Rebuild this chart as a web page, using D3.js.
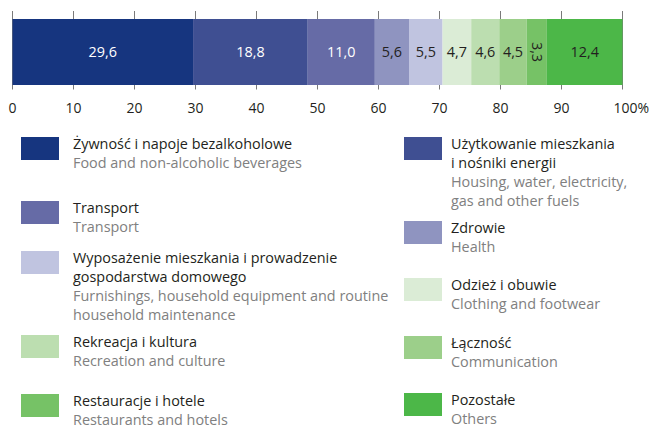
<!DOCTYPE html>
<html>
<head>
<meta charset="utf-8">
<script src="https://cdn.jsdelivr.net/npm/d3@7"></script>
<style>
  body { margin: 0; background: #fff; }
  svg { display: block; font-family: "Open Sans", "Noto Sans", sans-serif; }
</style>
</head>
<body>
<svg id="chart" width="650" height="426"></svg>
<script>
// Household expenditure structure (%), one stacked bar
const labelsPl = [
  "Żywność i napoje bezalkoholowe",
  "Użytkowanie mieszkania|i nośniki energii",
  "Transport",
  "Zdrowie",
  "Wyposażenie mieszkania i prowadzenie|gospodarstwa domowego",
  "Odzież i obuwie",
  "Rekreacja i kultura",
  "Łączność",
  "Restauracje i hotele",
  "Pozostałe"
];
const labelsEn = [
  "Food and non-alcoholic beverages",
  "Housing, water, electricity,|gas and other fuels",
  "Transport",
  "Health",
  "Furnishings, household equipment and routine|household maintenance",
  "Clothing and footwear",
  "Recreation and culture",
  "Communication",
  "Restaurants and hotels",
  "Others"
];
const shares = [29.6, 18.8, 11.0, 5.6, 5.5, 4.7, 4.6, 4.5, 3.3, 12.4];
const colors = ["#16357f", "#3f4f92", "#666ba6", "#8f94c0", "#c0c4e0",
                "#dbecd6", "#bcdeb0", "#9ccf8a", "#76c266", "#4cb748"];
const tickValues = [0, 10, 20, 30, 40, 50, 60, 70, 80, 90, 100];

const svg = d3.select("#chart");
const x = d3.scaleLinear().domain([0, 100]).range([12.5, 622.5]);
const barTop = 19, barBottom = 85;

// cumulative starts
let acc = 0;
const segs = shares.map((v, i) => {
  const s = { i, v, x0: acc, x1: acc + v };
  acc += v;
  return s;
});

// tick marks above and below the bar
svg.append("g").selectAll("line").data(tickValues).join("line")
  .attr("x1", d => x(d)).attr("x2", d => x(d))
  .attr("y1", 11).attr("y2", 89.5)
  .attr("stroke", "#7a7a7a").attr("stroke-width", 1);

svg.append("g").selectAll("rect").data(segs).join("rect")
  .attr("x", d => x(d.x0)).attr("width", d => x(d.x1) - x(d.x0))
  .attr("y", barTop).attr("height", barBottom - barTop)
  .attr("fill", d => colors[d.i]);

// value labels
const fmt = v => v.toFixed(1).replace(".", ",");
svg.append("g").selectAll("text").data(segs).join("text")
  .attr("transform", d => {
    const cx = (x(d.x0) + x(d.x1)) / 2, cy = (barTop + barBottom) / 2;
    return d.v < 4 ? `translate(${cx},${cy}) rotate(90)` : `translate(${cx},${cy})`;
  })
  .attr("text-anchor", "middle").attr("dy", "0.35em")
  .attr("font-size", 14.4)
  .attr("fill", d => d.i < 3 ? "#ffffff" : "#231f20")
  .text(d => fmt(d.v));

// axis labels
svg.append("g").selectAll("text").data(tickValues).join("text")
  .attr("x", d => x(d)).attr("y", 113)
  .attr("text-anchor", d => d === 100 ? "start" : "middle")
  .attr("dx", d => d === 100 ? -9 : 0)
  .attr("font-size", 14).attr("fill", "#231f20")
  .text(d => d === 100 ? "100%" : d);

// legend: left column and right column
const legendPos = [
  { col: 0, y: 137 }, { col: 1, y: 137 },
  { col: 0, y: 201 }, { col: 1, y: 221 },
  { col: 0, y: 251 }, { col: 1, y: 278 },
  { col: 0, y: 335 }, { col: 1, y: 336 },
  { col: 0, y: 394 }, { col: 1, y: 393 }
];
const colX = [{ sw: 21, tx: 73 }, { sw: 404, tx: 451 }];
const lineH = 19;

const leg = svg.append("g").selectAll("g").data(legendPos).join("g")
  .attr("transform", d => `translate(0,${d.y})`);
leg.append("rect")
  .attr("x", d => colX[d.col].sw).attr("y", 0)
  .attr("width", 38).attr("height", 23)
  .attr("fill", (d, i) => colors[i]);
leg.each(function (d, i) {
  const g = d3.select(this);
  const pl = labelsPl[i].split("|"), en = labelsEn[i].split("|");
  const lines = pl.map(t => ({ t, c: "#231f20" })).concat(en.map(t => ({ t, c: "#808080" })));
  g.selectAll("text").data(lines).join("text")
    .attr("x", colX[d.col].tx)
    .attr("y", (l, k) => 11.5 + k * lineH)
    .attr("font-size", 14.4)
    .attr("fill", l => l.c)
    .text(l => l.t);
});
</script>
</body>
</html>
